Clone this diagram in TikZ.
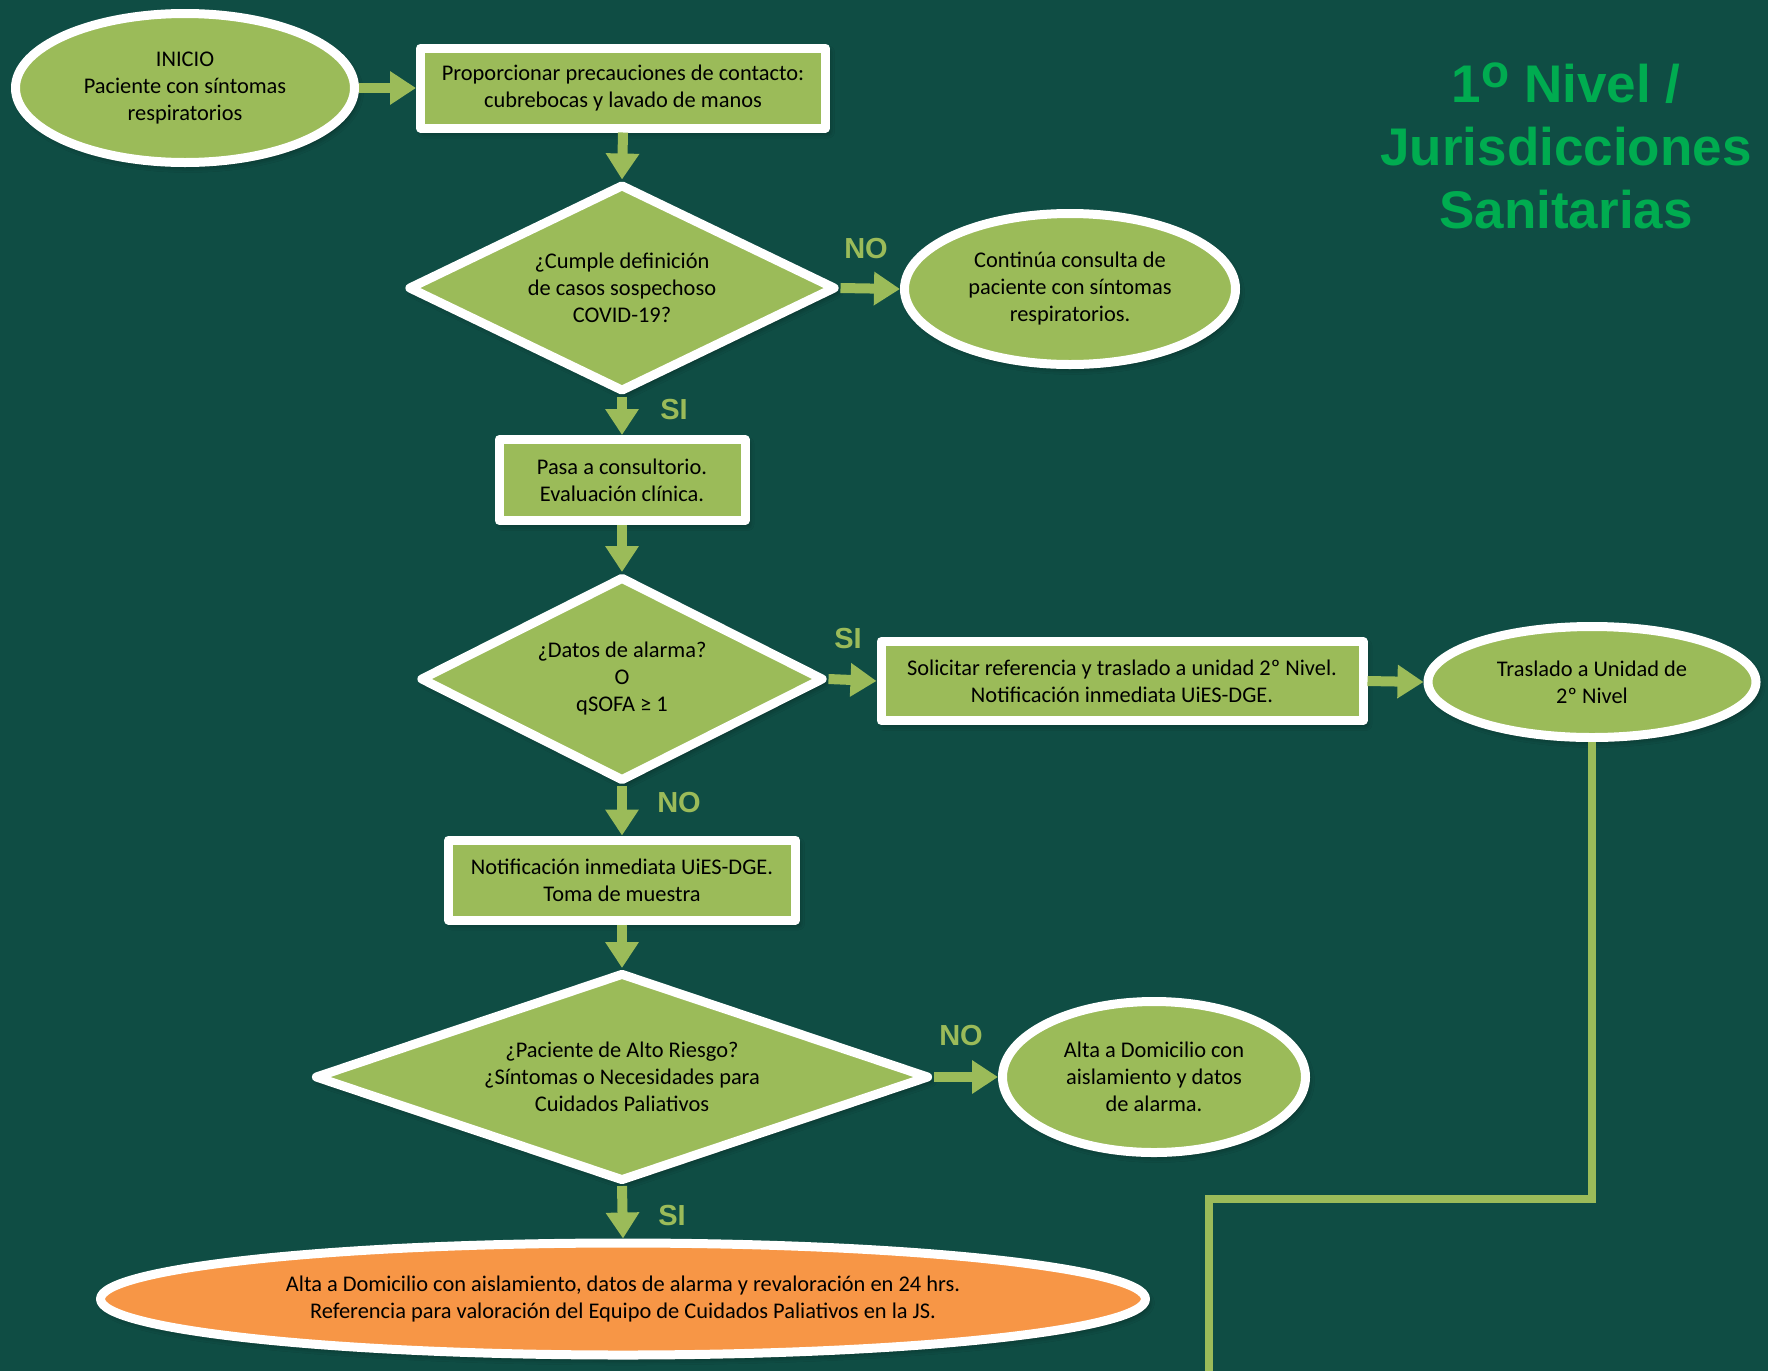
\documentclass[tikz,border=0pt]{standalone}
\usepackage{fontspec}
\setmainfont{Carlito}
\newfontfamily\arialfont{Liberation Sans}
\usetikzlibrary{arrows.meta,shapes.geometric,shadows.blur}

\definecolor{bgteal}{HTML}{0F4D44}
\definecolor{fgreen}{HTML}{9BBB59}
\definecolor{forange}{HTML}{F79646}
\definecolor{titlegreen}{RGB}{0,172,80}

\tikzset{
  shape base/.style={draw=white, line width=9pt, line join=round, fill=fgreen,
    text=black, align=center, inner sep=0pt,
    font=\fontsize{22.4}{27}\selectfont,
    blur shadow={shadow xshift=3pt, shadow yshift=-4pt, shadow blur radius=6pt, shadow opacity=45}},
  procbox/.style={shape base, rectangle},
  oval/.style={shape base, ellipse},
  decision/.style={shape base, diamond, aspect=2},
  flow/.style={draw=fgreen, line width=10pt, -{Triangle[length=26pt,width=32pt]}},
  link/.style={draw=fgreen, line width=8pt},
  answer/.style={text=fgreen, font=\arialfont\bfseries\fontsize{29}{30}\selectfont, inner sep=0pt},
}
% raised ordinal o of the title
\newcommand{\titleord}{\raisebox{0.27em}{\fontsize{46}{46}\selectfont o}}

\begin{document}
\begin{tikzpicture}[x=1pt, y=-1pt]
  % page and background
  \fill[bgteal] (0,0) rectangle (1768,1371);
  \useasboundingbox (0,0) rectangle (1768,1371);

  % title
  \node[text=titlegreen, align=center, font=\arialfont\bfseries\fontsize{53}{63}\selectfont]
    (title) at (1566,146) {1\titleord{} Nivel /\\Jurisdicciones\\Sanitarias};

  % main column
  \node[oval, minimum width=339pt, minimum height=149pt] (inicio) at (185,88)
    {INICIO\\Paciente con síntomas\\respiratorios};
  \node[procbox, minimum width=405pt, minimum height=80pt] (prec) at (623,88)
    {Proporcionar precauciones de contacto:\\cubrebocas y lavado de manos};
  \node[decision, minimum width=428pt, minimum height=208pt] (caso) at (622,288)
    {¿Cumple definición\\de casos sospechoso\\COVID-19?};
  \node[oval, minimum width=331pt, minimum height=151pt] (continua) at (1070,289)
    {Continúa consulta de\\paciente con síntomas\\respiratorios.};
  \node[procbox, minimum width=246pt, minimum height=81pt] (consult) at (622,480)
    {Pasa a consultorio.\\Evaluación clínica.};
  \node[decision, minimum width=404pt, minimum height=205pt] (alarma) at (622,679)
    {¿Datos de alarma?\\O\\qSOFA ≥ 1};
  \node[procbox, minimum width=482pt, minimum height=79pt] (solicitar) at (1122,681)
    {Solicitar referencia y traslado a unidad 2º Nivel.\\Notificación inmediata UiES-DGE.};
  \node[oval, minimum width=328pt, minimum height=111pt] (traslado) at (1592,682)
    {Traslado a Unidad de\\2º Nivel};
  \node[procbox, minimum width=347pt, minimum height=80pt] (notif) at (622,880)
    {Notificación inmediata UiES-DGE.\\Toma de muestra};
  \node[decision, minimum width=615pt, minimum height=209pt] (riesgo) at (622,1077)
    {¿Paciente de Alto Riesgo?\\¿Síntomas o Necesidades para\\Cuidados Paliativos};
  \node[oval, minimum width=303pt, minimum height=151pt] (alta) at (1154,1077)
    {Alta a Domicilio con\\aislamiento y datos\\de alarma.};
  \node[oval, fill=forange, minimum width=1045pt, minimum height=112pt] (paliativos) at (623,1299)
    {Alta a Domicilio con aislamiento, datos de alarma y revaloración en 24 hrs.\\Referencia para valoración del Equipo de Cuidados Paliativos en la JS.};

  % connectors
  \draw[flow] (inicio.east) -- (prec.west);
  \draw[flow] (prec.south) -- (caso.north);
  \draw[flow] (caso.east) -- (continua.west);
  \draw[flow] (caso.south) -- (consult.north);
  \draw[flow] (consult.south) -- (alarma.north);
  \draw[flow] (alarma.east) -- (solicitar.west);
  \draw[flow] (solicitar.east) -- (traslado.west);
  \draw[flow] (alarma.south) -- (notif.north);
  \draw[flow] (notif.south) -- (riesgo.north);
  \draw[flow] (riesgo.east) -- (alta.west);
  \draw[flow] (riesgo.south) -- (paliativos.north);

  \coordinate (turn) at (1209,1199);
  \coordinate (exit) at (1209,1371);
  \draw[link] (traslado.south) |- (turn) -- (exit);

  % answer labels
  \node[answer] (no1) at (866,249) {NO};
  \node[answer] (si1) at (674,410) {SI};
  \node[answer] (si2) at (848,639) {SI};
  \node[answer] (no2) at (679,803) {NO};
  \node[answer] (no3) at (961,1035) {NO};
  \node[answer] (si3) at (672,1215) {SI};
\end{tikzpicture}
\end{document}
